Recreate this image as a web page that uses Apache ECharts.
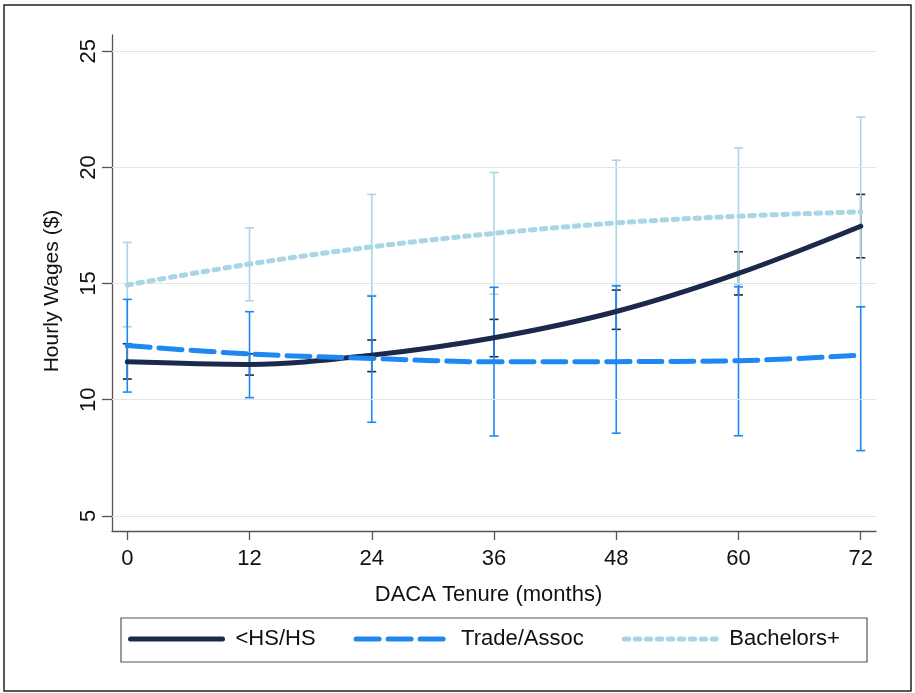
<!DOCTYPE html>
<html><head><meta charset="utf-8">
<script src="https://cdn.jsdelivr.net/npm/echarts@6/dist/echarts.min.js"></script>
<style>html,body{margin:0;padding:0;background:#fff}#c{width:915px;height:693px}</style>
</head><body><div id="c"></div>
<script>
const months = [0, 12, 24, 36, 48, 60, 72];
const xTicks = [0, 12, 24, 36, 48, 60, 72];
const yTicks = [5, 10, 15, 20, 25];
const seriesNames = ['<HS/HS', 'Trade/Assoc', 'Bachelors+'];
const hsMean = [11.63, 11.52, 11.92, 12.67, 13.80, 15.44, 17.47];
const hsLow = [10.89, 11.06, 11.21, 11.85, 13.03, 14.51, 16.11];
const hsHigh = [12.41, 11.98, 12.57, 13.46, 14.72, 16.37, 18.84];
const tradeMean = [12.33, 11.97, 11.78, 11.63, 11.64, 11.68, 11.92];
const tradeLow = [10.33, 10.09, 9.03, 8.44, 8.56, 8.45, 7.81];
const tradeHigh = [14.32, 13.79, 14.46, 14.84, 14.91, 14.86, 14.00];
const bachMean = [14.94, 15.84, 16.58, 17.16, 17.61, 17.90, 18.09];
const bachLow = [13.14, 14.26, 14.49, 14.54, 14.89, 14.96, 14.01];
const bachHigh = [16.77, 17.40, 18.84, 19.78, 20.31, 20.84, 22.17];

const FONT = '"Liberation Sans", Arial, sans-serif';
const NAVY = '#1b2a4b', BLUE = '#1e87f2', LIGHT = '#a9d6e5';

function ciSeries(id, low, high, color, capW) {
  return {
    type: 'custom', name: id, silent: true, z: 2,
    data: months.map((m, i) => [m, low[i], high[i]]),
    encode: { x: 0, y: [1, 2] },
    renderItem(params, api) {
      const x = api.value(0);
      const lo = api.coord([x, api.value(1)]);
      const hi = api.coord([x, api.value(2)]);
      const w = capW;
      const st = { stroke: color, lineWidth: 1.6, fill: null };
      return { type: 'group', children: [
        { type: 'line', shape: { x1: lo[0], y1: lo[1], x2: hi[0], y2: hi[1] }, style: st },
        { type: 'line', shape: { x1: lo[0] - w, y1: lo[1], x2: lo[0] + w, y2: lo[1] }, style: st },
        { type: 'line', shape: { x1: hi[0] - w, y1: hi[1], x2: hi[0] + w, y2: hi[1] }, style: st }
      ]};
    }
  };
}
function lineSeries(name, vals, color, type, cap, z) {
  return {
    type: 'line', name, z,
    data: months.map((m, i) => [m, vals[i]]),
    smooth: 0.35, showSymbol: false, symbol: 'none',
    lineStyle: { color, width: 5, type, cap },
    itemStyle: { color }
  };
}

const chart = echarts.init(document.getElementById('c'), null, { renderer: 'canvas' });
chart.setOption({
  animation: false,
  backgroundColor: '#fff',
  grid: { left: 112, right: 39, top: 35, bottom: 162 },
  xAxis: {
    type: 'value', min: -1.5, max: 73.5,
    axisLine: { show: true, onZero: false, lineStyle: { color: '#555', width: 1.3 } },
    axisTick: { show: true, length: 9, customValues: xTicks, lineStyle: { color: '#555', width: 1.3 } },
    axisLabel: { customValues: xTicks, margin: 17, fontSize: 22, color: '#111', fontFamily: FONT },
    splitLine: { show: false },
    name: 'DACA Tenure (months)', nameLocation: 'middle', nameGap: 53,
    nameTextStyle: { fontSize: 22, color: '#111', fontFamily: FONT, padding: [0, 11, 0, 0] }
  },
  yAxis: {
    type: 'value', min: 4.35, max: 25.7,
    axisLine: { show: true, onZero: false, lineStyle: { color: '#555', width: 1.3 } },
    axisTick: { show: true, length: 10, customValues: yTicks, lineStyle: { color: '#555', width: 1.3 } },
    axisLabel: { customValues: yTicks, rotate: 90, margin: 12, fontSize: 22, color: '#111', fontFamily: FONT },
    splitLine: { show: false },
    name: 'Hourly Wages ($)', nameLocation: 'middle', nameGap: 49,
    nameTextStyle: { fontSize: 21, color: '#111', fontFamily: FONT, padding: [0, 16, 0, 0] }
  },
  legend: {
    data: seriesNames, left: 128, top: 628, padding: 0,
    itemWidth: 92, itemHeight: 14, itemGap: 38,
    itemStyle: { opacity: 0, borderWidth: 0 },
    lineStyle: { width: 5 },
    textStyle: { fontSize: 22, color: '#111', fontFamily: FONT, padding: [0, 0, 0, 8] }
  },
  graphic: [
    { type: 'rect', silent: true, shape: { x: 4, y: 5, width: 907, height: 686 }, style: { fill: 'none', stroke: '#222', lineWidth: 1.5 } },
    { type: 'rect', silent: true, shape: { x: 121, y: 618, width: 746, height: 44 }, style: { fill: 'none', stroke: '#555', lineWidth: 1.2 } }
  ],
  series: [
    {
      type: 'line', name: 'grid', data: [], z: 1, silent: true,
      markLine: {
        silent: true, symbol: 'none', label: { show: false },
        lineStyle: { color: '#e4e4e4', width: 1.2, type: 'solid' },
        data: yTicks.map(v => ({ yAxis: v }))
      }
    },
    ciSeries('ci-hs', hsLow, hsHigh, NAVY, 4.5),
    ciSeries('ci-bach', bachLow, bachHigh, LIGHT, 4.5),
    ciSeries('ci-trade', tradeLow, tradeHigh, BLUE, 4.5),
    lineSeries(seriesNames[0], hsMean, NAVY, 'solid', 'round', 5),
    lineSeries(seriesNames[1], tradeMean, BLUE, [23, 9], 'round', 6),
    lineSeries(seriesNames[2], bachMean, LIGHT, [4.5, 6.5], 'round', 7)
  ]
});
</script></body></html>
